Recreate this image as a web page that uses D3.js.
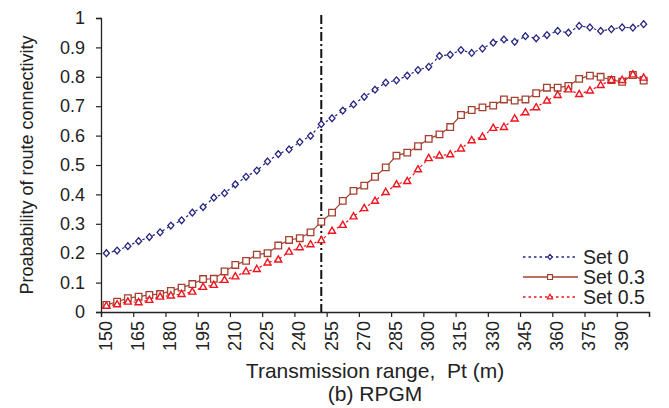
<!DOCTYPE html>
<html>
<head>
<meta charset="utf-8">
<script src="https://cdn.jsdelivr.net/npm/d3@7"></script>
<style>
  body { margin: 0; background: #fff; }
  svg { display: block; font-family: "Liberation Sans", Arial, sans-serif; }
</style>
</head>
<body>
<svg width="669" height="408"></svg>
<script>
// Transmission range categories (m)
const ranges = [150, 155, 160, 165, 170, 175, 180, 185, 190, 195, 200, 205, 210, 215, 220, 225, 230,
    235, 240, 245, 250, 255, 260, 265, 270, 275, 280, 285, 290, 295, 300, 305, 310, 315, 320, 325,
    330, 335, 340, 345, 350, 355, 360, 365, 370, 375, 380, 385, 390, 395, 400];

const tickLabels = [150, 165, 180, 195, 210, 225, 240, 255, 270, 285, 300, 315, 330, 345, 360, 375, 390];
const yTicks = [0, 0.1, 0.2, 0.3, 0.4, 0.5, 0.6, 0.7, 0.8, 0.9, 1];

// Probability of route connectivity per set
const set0 = [0.200, 0.209, 0.224, 0.241, 0.255, 0.271, 0.294, 0.312, 0.338, 0.357, 0.389, 0.404, 0.434,
    0.460, 0.481, 0.512, 0.537, 0.553, 0.578, 0.599, 0.639, 0.659, 0.685, 0.706, 0.732, 0.756, 0.780,
    0.788, 0.804, 0.823, 0.834, 0.871, 0.875, 0.891, 0.881, 0.896, 0.916, 0.927, 0.919, 0.938, 0.931,
    0.942, 0.956, 0.950, 0.973, 0.968, 0.956, 0.962, 0.968, 0.967, 0.979];

const set03 = [0.024, 0.035, 0.047, 0.052, 0.058, 0.061, 0.072, 0.083, 0.095, 0.112, 0.113, 0.138, 0.160,
    0.174, 0.195, 0.200, 0.226, 0.245, 0.251, 0.271, 0.307, 0.338, 0.378, 0.412, 0.430, 0.460, 0.492,
    0.532, 0.542, 0.564, 0.589, 0.604, 0.629, 0.670, 0.687, 0.696, 0.702, 0.723, 0.719, 0.723, 0.744,
    0.763, 0.763, 0.769, 0.793, 0.804, 0.800, 0.789, 0.783, 0.806, 0.787];

const set05 = [0.021, 0.026, 0.035, 0.033, 0.041, 0.052, 0.056, 0.061, 0.069, 0.085, 0.092, 0.109, 0.121,
    0.138, 0.146, 0.168, 0.178, 0.205, 0.220, 0.230, 0.244, 0.276, 0.296, 0.325, 0.353, 0.378, 0.408,
    0.434, 0.445, 0.485, 0.523, 0.532, 0.536, 0.556, 0.584, 0.596, 0.626, 0.629, 0.658, 0.679, 0.696,
    0.719, 0.738, 0.757, 0.741, 0.753, 0.772, 0.789, 0.789, 0.808, 0.797];

const seriesNames = ["Set 0", "Set 0.3", "Set 0.5"];
const markerRange = 250;

const svg = d3.select("svg");
const plotLeft = 101, plotRight = 649, plotTop = 18, plotBottom = 312;
const axisColor = "#222";

// category axis: each range sits in the middle of a 5 m slot
const x = d3.scaleLinear().domain([147.5, 402.5]).range([plotLeft, plotRight]);
const y = d3.scaleLinear().domain([0, 1]).range([plotBottom, plotTop]);

// x axis ticks on slot boundaries, every third category
const xAxis = svg.append("g")
    .attr("transform", "translate(0," + plotBottom + ")")
    .call(d3.axisBottom(x)
        .tickValues(d3.range(0, 52, 3).map(i => 147.5 + i * 5))
        .tickSize(5)
        .tickFormat(""));
xAxis.select(".domain").attr("stroke", axisColor).attr("stroke-width", 1.3);
xAxis.selectAll(".tick line").attr("stroke", axisColor).attr("stroke-width", 1.2);

svg.append("g").selectAll("text")
    .data(tickLabels)
    .join("text")
    .attr("transform", d => "translate(" + (x(d) - 1) + "," + (plotBottom + 9) + ") rotate(-90)")
    .attr("text-anchor", "end")
    .attr("dy", "0.36em")
    .attr("font-size", 18)
    .attr("fill", axisColor)
    .text(d => d);

// y axis
const yAxis = svg.append("g")
    .attr("transform", "translate(" + plotLeft + ",0)")
    .call(d3.axisLeft(y).tickValues(yTicks).tickSize(5).tickPadding(11).tickFormat(d3.format("~g")));
yAxis.select(".domain").attr("stroke", axisColor).attr("stroke-width", 1.3);
yAxis.selectAll(".tick line").attr("stroke", axisColor).attr("stroke-width", 1.2);
yAxis.selectAll(".tick text")
    .attr("font-size", 18)
    .attr("font-family", "Liberation Sans, Arial, sans-serif")
    .attr("fill", axisColor);

// dash-dot marker at 250 m
svg.append("line")
    .attr("x1", x(markerRange)).attr("x2", x(markerRange))
    .attr("y1", y(1.01)).attr("y2", y(0))
    .attr("stroke", "#111")
    .attr("stroke-width", 2)
    .attr("stroke-dasharray", "9,3,2,3");

// series and marker shapes
const diamond = "M0,-3.4L3,0L0,3.4L-3,0Z";
const square = "M-3.3,-3.3H3.3V3.3H-3.3Z";
const triangle = "M0,-3.8L3.5,2.4H-3.5Z";

const series = [
    {name: seriesNames[0], values: set0, color: "#25257f", dash: "2.5,3", shape: diamond, w: 1.3},
    {name: seriesNames[1], values: set03, color: "#a3402f", dash: null, shape: square, w: 1.3},
    {name: seriesNames[2], values: set05, color: "#f0141e", dash: "2.5,3", shape: triangle, w: 1.4}
];

const line = d3.line()
    .x((d, i) => x(ranges[i]))
    .y(d => y(d));

series.forEach(s => {
    svg.append("path")
        .datum(s.values)
        .attr("d", line)
        .attr("fill", "none")
        .attr("stroke", s.color)
        .attr("stroke-width", 1.2)
        .attr("stroke-dasharray", s.dash);

    svg.append("g").selectAll("path")
        .data(s.values)
        .join("path")
        .attr("transform", (d, i) => "translate(" + x(ranges[i]) + "," + y(d) + ")")
        .attr("d", s.shape)
        .attr("fill", "#fff")
        .attr("stroke", s.color)
        .attr("stroke-width", s.w);
});

// legend
const legend = svg.append("g");
series.forEach((s, i) => {
    const ly = 257 + i * 20;
    legend.append("line")
        .attr("x1", 523).attr("x2", 578)
        .attr("y1", ly).attr("y2", ly)
        .attr("stroke", s.color)
        .attr("stroke-width", 1.3)
        .attr("stroke-dasharray", s.dash);
    legend.append("path")
        .attr("transform", "translate(550," + ly + ") scale(0.75)")
        .attr("d", s.shape)
        .attr("fill", "#fff")
        .attr("stroke", s.color)
        .attr("stroke-width", 1.6);
    legend.append("text")
        .attr("x", 583)
        .attr("y", ly + 7)
        .attr("font-size", 19.5)
        .attr("fill", axisColor)
        .text(s.name);
});

// axis titles
svg.append("text")
    .attr("transform", "translate(33," + (plotTop + plotBottom) / 2 + ") rotate(-90)")
    .attr("text-anchor", "middle")
    .attr("font-size", 18)
    .attr("fill", axisColor)
    .text("Proabability of route connectivity");

svg.append("text")
    .attr("x", (plotLeft + plotRight) / 2)
    .attr("y", 378)
    .attr("text-anchor", "middle")
    .attr("font-size", 21)
    .attr("fill", axisColor)
    .style("white-space", "pre")
    .text("Transmission range,  Pt (m)");

svg.append("text")
    .attr("x", (plotLeft + plotRight) / 2)
    .attr("y", 401)
    .attr("text-anchor", "middle")
    .attr("font-size", 21)
    .attr("fill", axisColor)
    .text("(b) RPGM");
</script>
</body>
</html>
